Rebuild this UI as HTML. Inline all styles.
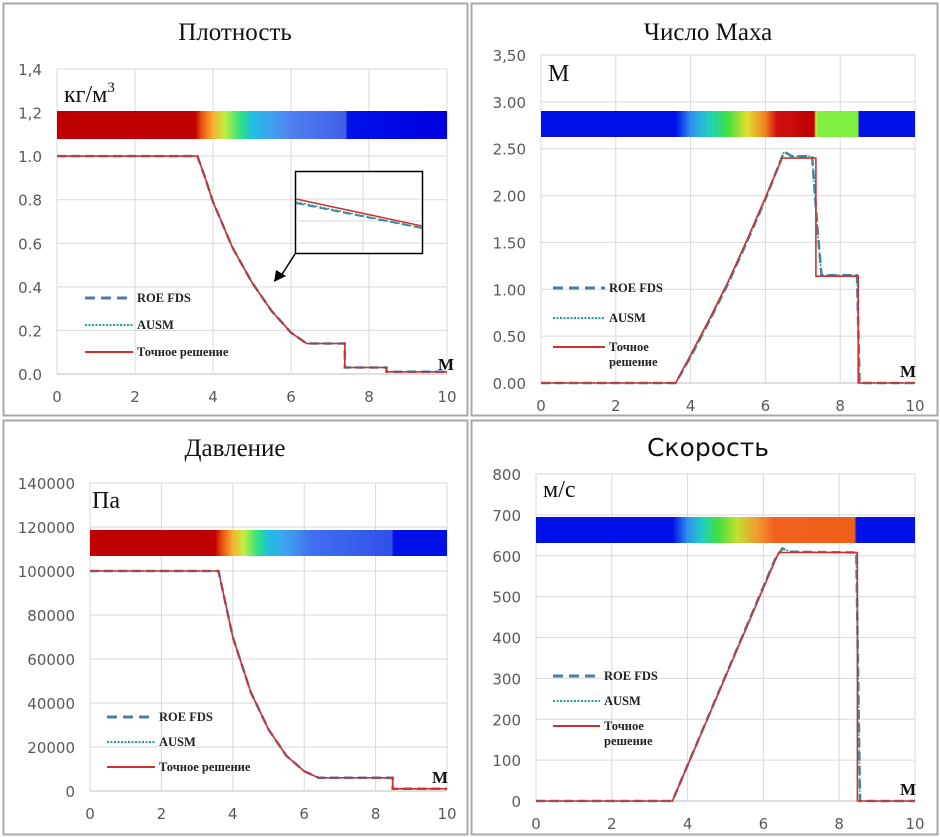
<!DOCTYPE html>
<html><head><meta charset="utf-8">
<style>
body{margin:0;background:#fff;width:940px;height:837px;overflow:hidden}
svg{display:block}
</style></head>
<body>
<svg id="chart" width="940" height="837" xmlns="http://www.w3.org/2000/svg"></svg>
<script>
// ---- data ----
const densX = [0, 3.6, 3.8, 4.0, 4.5, 5.0, 5.5, 6.0, 6.4, 7.38, 7.38, 8.45, 8.45, 10];
const densY = [1.0, 1.0, 0.9, 0.79, 0.58, 0.42, 0.29, 0.19, 0.14, 0.14, 0.03, 0.03, 0.01, 0.01];
const machX = [0, 3.6, 4.0, 4.5, 5.0, 5.5, 6.0, 6.45, 7.35, 7.35, 8.48, 8.48, 10];
const machY = [0, 0, 0.3, 0.68, 1.08, 1.52, 1.98, 2.4, 2.4, 1.14, 1.14, 0, 0];
const machNumX = [0, 3.6, 4.0, 4.5, 5.0, 5.5, 6.0, 6.5, 6.7, 7.25, 7.4, 7.5, 8.45, 8.52, 10];
const machNumY = [0, 0, 0.28, 0.66, 1.06, 1.5, 1.96, 2.47, 2.42, 2.42, 1.6, 1.15, 1.15, 0, 0];
const presX = [0, 3.6, 4.0, 4.5, 5.0, 5.5, 6.0, 6.4, 8.48, 8.48, 10];
const presY = [100000, 100000, 70000, 45000, 28000, 16000, 9000, 6000, 6000, 1000, 1000];
const velX = [0, 3.6, 6.4, 8.48, 8.48, 10];
const velY = [0, 0, 608, 608, 0, 0];
const velNumX = [0, 3.6, 6.3, 6.5, 6.7, 8.45, 8.55, 10];
const velNumY = [0, 0, 590, 618, 610, 608, 0, 0];
const densTicks = ["0.0","0.2","0.4","0.6","0.8","1.0","1,2","1,4"];
const machTicks = ["0.00","0.50","1.00","1.50","2.00","2.50","3.00","3,50"];
const presTicks = ["0","20000","40000","60000","80000","100000","120000","140000"];
const velTicks = ["0","100","200","300","400","500","600","700","800"];
const xTicks = ["0","2","4","6","8","10"];

const NS="http://www.w3.org/2000/svg";
const svg=document.getElementById('chart');
function mk(tag,attrs,parent){const e=document.createElementNS(NS,tag);for(const k in attrs)e.setAttribute(k,attrs[k]);(parent||svg).appendChild(e);return e;}

const panels=[
 {box:[3,3,464,412],x0:57,x1:447,yTop:69,yBot:374,ymax:1.4,ticks:densTicks,title:"Плотность",serif:true,unit:"кг/м",sup:"3",unitPos:[64,102],
  bar:[111,139],grad:[[0,'#c00000'],[0.355,'#c00000'],[0.37,'#e85010'],[0.4,'#f8b030'],[0.43,'#c0f040'],[0.47,'#30e080'],[0.5,'#20c0e0'],[0.55,'#40a0f0'],[0.6,'#5080f0'],[0.74,'#4060e8'],[0.745,'#0010e8'],[1,'#0000e0']],
  X:densX,Y:densY,NX:densX,NY:densY,leg:[85,133,298,325,352],legTwo:false,mPos:[446,370],inset:true,title_y:40},
 {box:[471,3,466,412],x0:541,x1:915,yTop:55,yBot:383,ymax:3.5,ticks:machTicks,title:"Число Маха",serif:true,unit:"M",unitPos:[548,81],
  bar:[111,137],grad:[[0,'#0010e8'],[0.36,'#0010e8'],[0.4,'#3090f0'],[0.45,'#20d0c0'],[0.5,'#40e040'],[0.55,'#e0e030'],[0.6,'#f08020'],[0.63,'#d01010'],[0.73,'#c00000'],[0.735,'#e0e040'],[0.74,'#80f040'],[0.848,'#80f040'],[0.85,'#0010e8'],[1,'#0010e8']],
  X:machX,Y:machY,NX:machNumX,NY:machNumY,leg:[553,605,288,318,347],legTwo:true,mPos:[908,377],title_y:40},
 {box:[3,420,464,414],x0:90,x1:447,yTop:483,yBot:791,ymax:140000,ticks:presTicks,title:"Давление",serif:true,unit:"Па",unitPos:[92,508],
  bar:[530,556],grad:[[0,'#c00000'],[0.35,'#c00000'],[0.37,'#e85010'],[0.4,'#f8b030'],[0.43,'#c0f040'],[0.47,'#30e080'],[0.5,'#20c0e0'],[0.55,'#40a0f0'],[0.62,'#4070f0'],[0.846,'#3050e8'],[0.85,'#0010e8'],[1,'#0010e8']],
  X:presX,Y:presY,NX:presX,NY:presY,leg:[107,155,717,742,767],legTwo:false,mPos:[440,783],title_y:456},
 {box:[471,420,466,414],x0:536,x1:915,yTop:474,yBot:801,ymax:800,ticks:velTicks,title:"Скорость",serif:false,unit:"м/с",unitPos:[543,497],
  bar:[517,543],grad:[[0,'#0010e8'],[0.36,'#0010e8'],[0.4,'#3090f0'],[0.44,'#20d0c0'],[0.48,'#40e040'],[0.53,'#c0e030'],[0.58,'#f0a030'],[0.63,'#f06020'],[0.84,'#f06018'],[0.846,'#0010e8'],[1,'#0010e8']],
  X:velX,Y:velY,NX:velNumX,NY:velNumY,leg:[553,600,676,701,726],legTwo:true,mPos:[908,795],title_y:456}
];

panels.forEach((p,pi)=>{
  const g=mk('g',{});
  
  
  const fx=v=>p.x0+(p.x1-p.x0)*v/10;
  const n=p.ticks.length-1;
  const step=p.ymax/n;
  const fy=v=>p.yBot-(p.yBot-p.yTop)*v/p.ymax;
  const border=mk('rect',{x:p.box[0]+.5,y:p.box[1]+.5,width:p.box[2],height:p.box[3],fill:'#fff',stroke:'#a8a8a8','stroke-width':2},g);
  
  
  const t=mk('text',{x:(p.box[0]+p.box[2]/2+(pi%2?4:0)),y:p.title_y,'text-anchor':'middle','font-size':25,'font-family':p.serif?'"Liberation Serif",serif':'"DejaVu Sans","Liberation Sans",sans-serif',fill:'#111'},g);
  t.textContent=p.title;
  
  
  for(let i=0;i<=n;i++){
    const y=fy(i*step);
    const l=mk('line',{x1:p.x0,x2:p.x1,y1:y,y2:y,stroke:i==0?'#bdbdbd':'#d9d9d9','stroke-width':1},g);
    
    
    const tl=mk('text',{x:p.x0-15,y:y+6,'text-anchor':'end','font-size':15,'font-family':'"DejaVu Sans","Liberation Sans",sans-serif',fill:'#595959'},g);
    tl.textContent=p.ticks[i];
    
    
  }
  xTicks.forEach(s=>{
    const x=fx(+s);
    const l=mk('line',{x1:x,x2:x,y1:p.yTop,y2:p.yBot,stroke:'#d9d9d9'},g);
    
    
    const tl=mk('text',{x:x,y:p.yBot+28,'text-anchor':'middle','font-size':15,'font-family':'"DejaVu Sans","Liberation Sans",sans-serif',fill:'#595959'},g);
    tl.textContent=s;
    
    
  });
  const gid='grad'+pi;
  const lg=mk('linearGradient',{id:gid,x1:0,x2:1,y1:0,y2:0},mk('defs',{},g));
  p.grad.forEach(s=>mk('stop',{offset:s[0],'stop-color':s[1]},lg));
  const cb=mk('rect',{x:p.x0,y:p.bar[0],width:p.x1-p.x0,height:p.bar[1]-p.bar[0],fill:'url(#'+gid+')'},g);
  
  
  const u=mk('text',{x:p.unitPos[0],y:p.unitPos[1],'font-size':24,'font-family':'"Liberation Serif",serif',fill:'#111'},g);
  u.textContent=p.unit;
  if(p.sup){const s=mk('tspan',{dy:-10,'font-size':15},u);s.textContent=p.sup;}
  
  
  const m=mk('text',{x:p.mPos[0],y:p.mPos[1],'font-size':17,'font-family':'"Liberation Serif",serif','font-weight':'bold','text-anchor':'middle',fill:'#111'},g);
  m.textContent='М';
  
  
  const pts=(X,Y)=>X.map((x,i)=>fx(x).toFixed(1)+','+fy(Y[i]).toFixed(1)).join(' ');
  const roe=mk('polyline',{points:pts(p.NX,p.NY),fill:'none',stroke:'#4a7ca8','stroke-width':2.5,'stroke-dasharray':'9,5'},g);
  
  
  const au=mk('polyline',{points:pts(p.NX,p.NY),fill:'none',stroke:'#20a090','stroke-width':1.5,'stroke-dasharray':'2,2'},g);
  
  
  const ex=mk('polyline',{points:pts(p.X,p.Y),fill:'none',stroke:'#d03030','stroke-width':1.6},g);
  
  
  const L=p.leg;
  const lf={'font-size':12.5,'font-family':'"Liberation Serif",serif','font-weight':'bold',fill:'#222'};
  const l1=mk('line',{x1:L[0],x2:L[1],y1:L[2],y2:L[2],stroke:'#4a7ca8','stroke-width':3,'stroke-dasharray':'10,6'},g);
  
  
  const t1=mk('text',Object.assign({x:L[1]+4,y:L[2]+4},lf),g);t1.textContent='ROE FDS';
  
  
  const l2=mk('line',{x1:L[0],x2:L[1],y1:L[3],y2:L[3],stroke:'#20a090','stroke-width':2,'stroke-dasharray':'2,1.5'},g);
  
  
  const t2=mk('text',Object.assign({x:L[1]+4,y:L[3]+4},lf),g);t2.textContent='AUSM';
  
  
  const l3=mk('line',{x1:L[0],x2:L[1],y1:L[4],y2:L[4],stroke:'#d03030','stroke-width':2},g);
  
  
  const t3=mk('text',Object.assign({x:L[1]+4,y:L[4]+4},lf),g);
  if(p.legTwo){const a=mk('tspan',{x:L[1]+4},t3);a.textContent='Точное';const b=mk('tspan',{x:L[1]+4,dy:15},t3);b.textContent='решение';}
  else t3.textContent='Точное решение';
  
  
  if(p.inset){
    const ib=mk('rect',{x:295.5,y:171.5,width:127,height:82,fill:'#fff',stroke:'#000','stroke-width':1.5},g);
    
    
    [199,221,243].forEach(y=>mk('line',{x1:296,x2:422,y1:y,y2:y,stroke:'#d9d9d9'},g));
    mk('line',{x1:363,x2:363,y1:172,y2:253,stroke:'#d9d9d9'},g);
    mk('line',{x1:296,x2:422,y1:203,y2:228,stroke:'#4a7ca8','stroke-width':2,'stroke-dasharray':'8,4'},g);
    mk('line',{x1:296,x2:422,y1:202,y2:228,stroke:'#20a090','stroke-width':1.5,'stroke-dasharray':'2,2'},g);
    mk('line',{x1:296,x2:422,y1:199,y2:226,stroke:'#d03030','stroke-width':1.5},g);
    const ar=mk('line',{x1:295,x2:281,y1:254,y2:276,stroke:'#000','stroke-width':1.5},g);
    
    
    mk('polygon',{points:'274,282 276,270 286,276',fill:'#000'},g);
  }
});
</script>
</body></html>
